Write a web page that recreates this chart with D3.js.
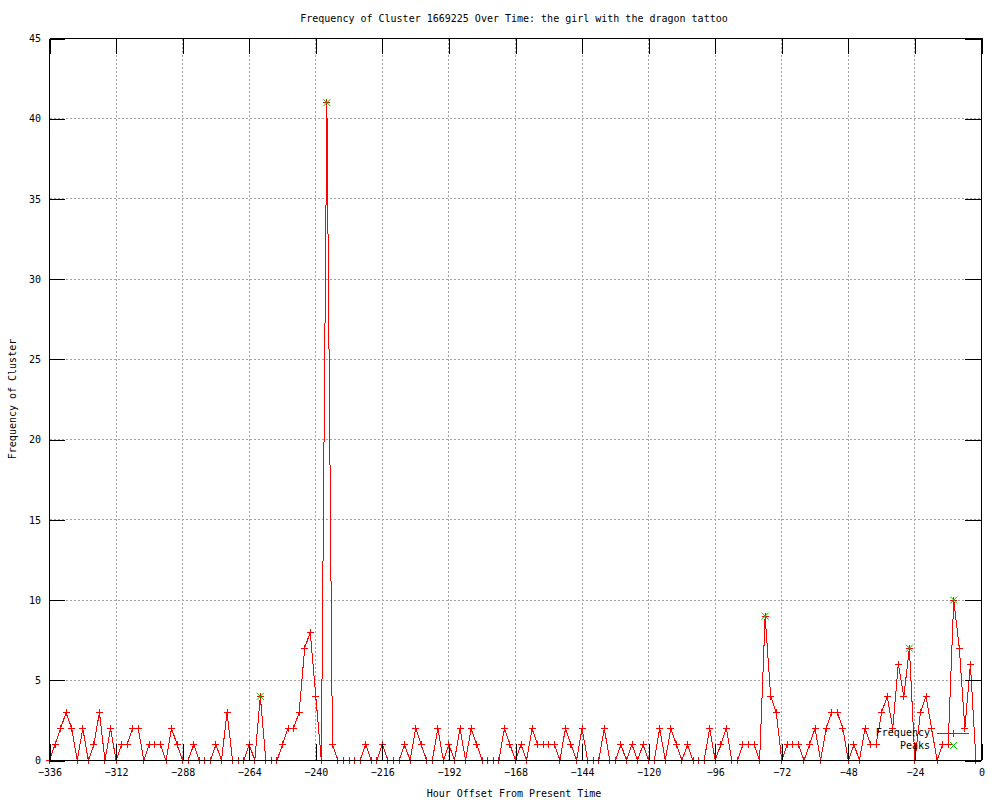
<!DOCTYPE html>
<html>
<head>
<meta charset="utf-8">
<script src="https://cdnjs.cloudflare.com/ajax/libs/d3/7.8.5/d3.min.js"></script>
<style>
body{margin:0;background:#fff;}
svg text{font-family:"DejaVu Sans Mono",monospace;font-size:10px;fill:#000;}
.grade line{stroke:#a0a0a0;stroke-dasharray:2,2;shape-rendering:crispEdges;}
.eixo path,.eixo line{stroke:#000;shape-rendering:crispEdges;}
</style>
</head>
<body>
<div id="chart"></div>
<script>
var titulo = "Frequency of Cluster 1669225 Over Time: the girl with the dragon tattoo";
var xLabel = "Hour Offset From Present Time";
var yLabel = "Frequency of Cluster";

// uma medida a cada 2 horas, de -336 ate -2
var horaInicial = -336;
var passoHoras = 2;
var frequencia = [
    0,1,2,3,2,0,2,0,1,3,
    0,2,0,1,1,2,2,0,1,1,
    1,0,2,1,0,0,1,0,0,0,
    1,0,3,0,0,0,1,0,4,0,
    0,0,1,2,2,3,7,8,4,0,
    41,1,0,0,0,0,0,1,0,0,
    1,0,0,0,1,0,2,1,0,0,
    2,0,1,0,2,0,2,1,0,0,
    0,0,2,1,0,1,0,2,1,1,
    1,1,0,2,1,0,2,0,0,0,
    2,0,0,1,0,1,0,1,0,0,
    2,0,2,1,0,1,0,0,0,2,
    0,1,2,0,0,1,1,1,0,9,
    4,3,0,1,1,1,0,1,2,0,
    2,3,3,2,0,1,0,2,1,1,
    3,4,2,6,4,7,0,3,4,2,
    0,1,1,10,7,2,6,0
];
var picoHoras = [-260, -236, -78, -26, -10];
var picoValores = [4, 41, 9, 7, 10];

var xTicks = [-336,-312,-288,-264,-240,-216,-192,-168,-144,-120,-96,-72,-48,-24,0];
var yTicks = [0,5,10,15,20,25,30,35,40,45];

var width = 1000, height = 800;
var margin = {top:38, right:19, bottom:40, left:49};
var plotWidth = width - margin.left - margin.right;
var plotHeight = height - margin.top - margin.bottom;

var dados = frequencia.map(function(v, i){
    return {hora: horaInicial + i*passoHoras, valor: v};
});
var picos = picoHoras.map(function(h, i){
    return {hora: h, valor: picoValores[i]};
});

var svg = d3.select('#chart').append('svg')
    .attr('width', width).attr('height', height);

var xs = d3.scaleLinear().domain([-336, 0]).range([0.5, plotWidth + 0.5]);
var ys = d3.scaleLinear().domain([0, 45]).range([plotHeight + 0.5, 0.5]);

var plotArea = svg.append('g')
    .attr('transform', 'translate(' + margin.left + ',' + margin.top + ')');

// grade pontilhada
var grade = plotArea.append('g').attr('class', 'grade');
grade.selectAll('.gx').data(xTicks).enter().append('line')
    .attr('x1', function(d){ return xs(d); }).attr('x2', function(d){ return xs(d); })
    .attr('y1', ys(0)).attr('y2', ys(45));
grade.selectAll('.gy').data(yTicks).enter().append('line')
    .attr('x1', xs(-336)).attr('x2', xs(0))
    .attr('y1', function(d){ return ys(d); }).attr('y2', function(d){ return ys(d); });

var line = d3.line()
    .x(function(d){ return xs(d.hora); })
    .y(function(d){ return ys(d.valor); });

plotArea.append('path')
    .datum(dados)
    .attr('d', line)
    .attr('fill', 'none')
    .attr('stroke', '#ff0000')
    .attr('stroke-width', 1)
    .attr('shape-rendering', 'crispEdges');

var cruz = 'M-3.5,0H3.5M0,-3.5V3.5';
var xis = 'M-3.5,-3.5L3.5,3.5M-3.5,3.5L3.5,-3.5';

plotArea.selectAll('.ponto').data(dados).enter().append('path')
    .attr('class', 'ponto')
    .attr('d', cruz)
    .attr('transform', function(d){ return 'translate(' + xs(d.hora) + ',' + ys(d.valor) + ')'; })
    .attr('stroke', '#ff0000').attr('fill', 'none')
    .attr('shape-rendering', 'crispEdges');

plotArea.selectAll('.pico').data(picos).enter().append('path')
    .attr('class', 'pico')
    .attr('d', xis)
    .attr('transform', function(d){ return 'translate(' + xs(d.hora) + ',' + ys(d.valor) + ')'; })
    .attr('stroke', '#00c000').attr('fill', 'none');

// eixos com ticks para dentro
plotArea.append('g').attr('class', 'eixo')
    .attr('transform', 'translate(0,' + (plotHeight) + ')')
    .call(d3.axisBottom(xs).tickValues(xTicks).tickSizeInner(-16).tickSizeOuter(0).tickPadding(9));
plotArea.append('g').attr('class', 'eixo')
    .call(d3.axisTop(xs).tickValues(xTicks).tickSizeInner(-16).tickSizeOuter(0).tickFormat(''));
plotArea.append('g').attr('class', 'eixo')
    .call(d3.axisLeft(ys).tickValues(yTicks).tickSizeInner(-16).tickSizeOuter(0).tickPadding(8));
plotArea.append('g').attr('class', 'eixo')
    .attr('transform', 'translate(' + plotWidth + ',0)')
    .call(d3.axisRight(ys).tickValues(yTicks).tickSizeInner(-16).tickSizeOuter(0).tickFormat(''));
svg.selectAll('.eixo').attr('font-family', null).attr('font-size', null);

// legenda
var legenda = svg.append('g');
legenda.append('text').attr('x', 930).attr('y', 733).attr('dy', '0.32em')
    .attr('text-anchor', 'end').text('Frequency');
legenda.append('line').attr('x1', 937).attr('x2', 969).attr('y1', 733.5).attr('y2', 733.5)
    .attr('stroke', '#ff0000').attr('shape-rendering', 'crispEdges');
legenda.append('path').attr('d', cruz).attr('transform', 'translate(953.5,733.5)')
    .attr('stroke', '#ff0000').attr('fill', 'none').attr('shape-rendering', 'crispEdges');
legenda.append('text').attr('x', 930).attr('y', 746).attr('dy', '0.32em')
    .attr('text-anchor', 'end').text('Peaks');
legenda.append('path').attr('d', xis).attr('transform', 'translate(953.5,745.5)')
    .attr('stroke', '#00c000').attr('fill', 'none');

svg.append('text').attr('x', 514).attr('y', 22).attr('text-anchor', 'middle').text(titulo);
svg.append('text').attr('x', 514).attr('y', 797).attr('text-anchor', 'middle').text(xLabel);
svg.append('text').attr('transform', 'translate(16,399) rotate(-90)')
    .attr('text-anchor', 'middle').text(yLabel);
</script>
</body>
</html>
